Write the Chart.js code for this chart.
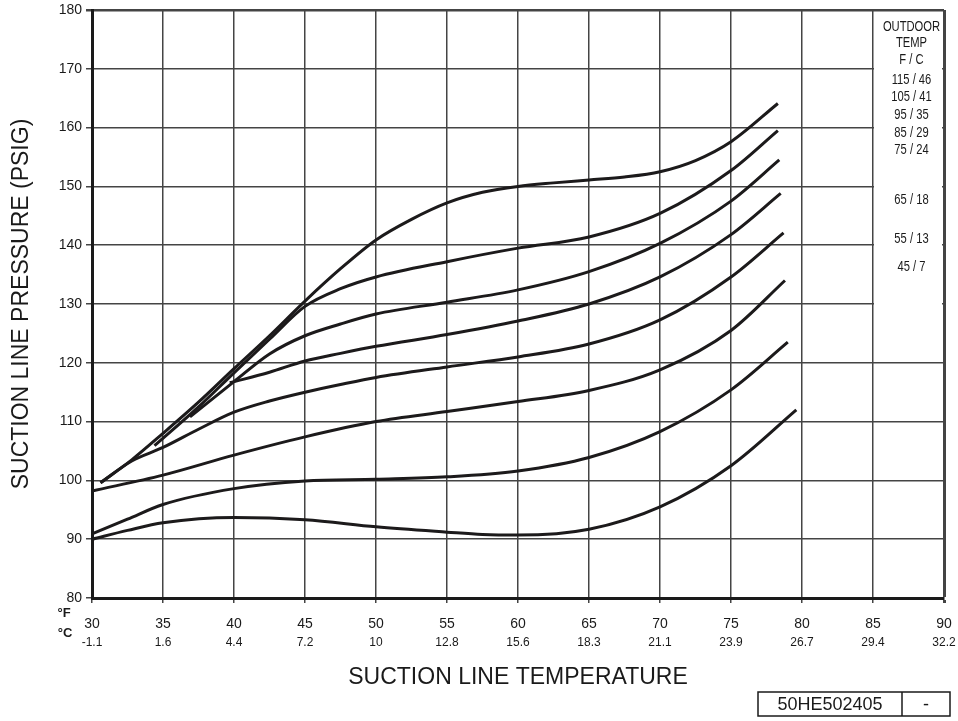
<!DOCTYPE html>
<html lang="en">
<head>
    <meta charset="UTF-8">
    <title>Suction Line Charging Chart</title>
    <script src="https://cdn.jsdelivr.net/npm/chart.js"></script>
    <style>
        html, body { margin: 0; padding: 0; background: #fff; overflow: hidden; }
        canvas { display: block; }
    </style>
</head>
<body>
    <canvas id="chargeChart" width="958" height="721"></canvas>
    <script>
        // outdoor temp labels (F / C), top curve first
        const curveLabels = ['115 / 46', '105 / 41', '95 / 35', '85 / 29', '75 / 24', '65 / 18', '55 / 13', '45 / 7'];

        // suction line temp (F) and pressure (psig)
        const temp115 = [30.6, 32.8, 35, 37.5, 40, 42.5, 45, 47.5, 50, 52.5, 55, 57.5, 60, 62.5, 65, 67.5, 70, 72.5, 75, 78.3];
        const psig115 = [99.6, 103.5, 108.0, 113.3, 119.0, 124.6, 130.5, 136.0, 140.9, 144.4, 147.2, 149.0, 150.0, 150.6, 151.1, 151.6, 152.5, 154.4, 157.6, 164.1];

        const temp105 = [34.4, 37.5, 40, 42.5, 45, 47.5, 50, 55, 60, 65, 70, 75, 78.3];
        const psig105 = [105.9, 112.5, 118.3, 124.0, 129.6, 132.6, 134.6, 137.2, 139.5, 141.4, 145.4, 152.7, 159.5];

        const temp95 = [36.9, 40, 42.5, 45, 47.5, 50, 55, 60, 65, 70, 75, 78.4];
        const psig95 = [110.8, 116.8, 121.5, 124.6, 126.6, 128.3, 130.3, 132.4, 135.5, 140.3, 147.5, 154.5];

        const temp85 = [39.7, 42.5, 45, 47.5, 50, 55, 60, 65, 70, 75, 78.5];
        const psig85 = [116.6, 118.4, 120.3, 121.6, 122.8, 124.8, 127.1, 130.0, 134.6, 141.8, 148.8];

        const temp75 = [30.6, 32.8, 35, 37.5, 40, 42.5, 45, 47.5, 50, 55, 60, 65, 70, 75, 78.7];
        const psig75 = [99.6, 103.3, 105.6, 108.7, 111.6, 113.5, 115.0, 116.3, 117.5, 119.3, 121.0, 123.2, 127.3, 134.6, 142.1];

        const temp65 = [30, 35, 40, 45, 50, 55, 60, 65, 70, 75, 78.8];
        const psig65 = [98.2, 100.9, 104.3, 107.4, 110.0, 111.7, 113.4, 115.3, 118.8, 125.5, 134.0];

        const temp55 = [30, 32.5, 35, 40, 45, 50, 55, 60, 65, 70, 75, 79.0];
        const psig55 = [90.9, 93.4, 95.9, 98.6, 99.9, 100.2, 100.6, 101.6, 103.9, 108.3, 115.4, 123.5];

        const temp45 = [30, 32.5, 35, 40, 45, 50, 55, 57.5, 60, 65, 70, 75, 79.6];
        const psig45 = [90.0, 91.5, 92.8, 93.7, 93.3, 92.1, 91.2, 90.8, 90.7, 91.7, 95.5, 102.5, 112.0];

        // second row of x tick labels (deg C)
        const celsiusTicks = ['-1.1', '1.6', '4.4', '7.2', '10', '12.8', '15.6', '18.3', '21.1', '23.9', '26.7', '29.4', '32.2'];

        const legendHead = ['OUTDOOR', 'TEMP', 'F / C'];
        const drawingNo = '50HE502405';
        const revision = '-';

        const allTemps = [temp115, temp105, temp95, temp85, temp75, temp65, temp55, temp45];
        const allPsig = [psig115, psig105, psig95, psig85, psig75, psig65, psig55, psig45];

        const datasets = curveLabels.map((label, i) => ({
            label: label,
            data: allTemps[i].map((t, j) => ({ x: t, y: allPsig[i][j] })),
            showLine: true,
            borderColor: '#1c1a1b',
            borderWidth: 3,
            pointRadius: 0,
            cubicInterpolationMode: 'monotone',
            fill: false
        }));

        const sans = '"Liberation Sans", Arial, sans-serif';
        const axisFont = { family: sans, size: 14 };
        const titleFont = { family: sans, size: 23 };

        // condensed text, the drawing uses a narrow face
        function narrowText(ctx, txt, x, y, squeeze) {
            ctx.save();
            ctx.translate(x, y);
            ctx.scale(squeeze, 1);
            ctx.fillText(txt, 0, 0);
            ctx.restore();
        }

        // keep label overhang from shrinking the plot area
        function noOverhang(s) {
            s.paddingLeft = 0;
            s.paddingRight = 0;
            s.paddingTop = 0;
            s.paddingBottom = 0;
        }

        const chartDecor = {
            id: 'chartDecor',
            beforeDatasetsDraw(chart) {
                // legend column: no horizontal grid from 130 up
                const { ctx, scales: { x, y } } = chart;
                const left = x.getPixelForValue(85) + 1;
                const right = x.getPixelForValue(90) - 2;
                const top = y.getPixelForValue(180) + 2;
                const bottom = y.getPixelForValue(125);
                ctx.save();
                ctx.fillStyle = '#fff';
                ctx.fillRect(left, top, right - left, bottom - top);
                ctx.restore();
            },
            afterDraw(chart) {
                const { ctx, scales: { x } } = chart;
                ctx.save();
                ctx.fillStyle = '#1a1a1a';
                ctx.textAlign = 'center';
                ctx.textBaseline = 'middle';

                // legend text
                const cx = (x.getPixelForValue(85) + x.getPixelForValue(90)) / 2 + 3;
                const rowsY = [27, 43, 60, 80, 97, 115, 133, 150, 200, 239, 267];
                const rows = legendHead.concat(curveLabels);
                ctx.font = '14px ' + sans;
                rows.forEach((txt, i) => narrowText(ctx, txt, cx, rowsY[i], 0.8));

                // unit markers
                ctx.font = 'bold 13px ' + sans;
                ctx.fillText('\u00B0F', 64, 613);
                ctx.fillText('\u00B0C', 65, 633);

                // drawing number box
                ctx.strokeStyle = '#1a1a1a';
                ctx.lineWidth = 1.5;
                ctx.strokeRect(758, 692, 192, 24);
                ctx.beginPath();
                ctx.moveTo(902, 692);
                ctx.lineTo(902, 716);
                ctx.stroke();
                ctx.font = '18px ' + sans;
                ctx.fillText(drawingNo, 830, 705);
                ctx.fillText(revision, 926, 705);
                ctx.restore();
            }
        };

        new Chart(document.getElementById('chargeChart'), {
            type: 'scatter',
            data: { datasets: datasets },
            plugins: [chartDecor],
            options: {
                responsive: false,
                animation: false,
                devicePixelRatio: 1,
                layout: { padding: { left: 0, top: 10, right: 14, bottom: 0 } },
                plugins: { legend: { display: false }, tooltip: { enabled: false } },
                scales: {
                    x: {
                        type: 'linear',
                        position: 'bottom',
                        weight: 0,
                        min: 30,
                        max: 90,
                        afterFit: s => { s.height = 34; noOverhang(s); },
                        ticks: { stepSize: 5, maxRotation: 0, autoSkip: false, padding: 13, color: '#1a1a1a', font: axisFont },
                        grid: {
                            color: '#444',
                            lineWidth: c => (c.tick && c.tick.value === 90 ? 3 : 1.5),
                            tickLength: 5
                        },
                        border: { color: '#1a1a1a', width: 3 }
                    },
                    xC: {
                        type: 'linear',
                        position: 'bottom',
                        weight: 1,
                        min: 30,
                        max: 90,
                        afterFit: s => { s.height = 89; noOverhang(s); },
                        ticks: {
                            stepSize: 5,
                            maxRotation: 0,
                            autoSkip: false,
                            padding: 3,
                            color: '#1a1a1a',
                            font: { family: sans, size: 12 },
                            callback: (v, i) => celsiusTicks[i]
                        },
                        grid: { display: false, drawTicks: false },
                        border: { display: false },
                        title: {
                            display: true,
                            text: 'SUCTION LINE TEMPERATURE',
                            color: '#1a1a1a',
                            font: titleFont,
                            padding: { top: 0, bottom: 30 }
                        }
                    },
                    y: {
                        type: 'linear',
                        min: 80,
                        max: 180,
                        afterFit: s => { s.width = 92; noOverhang(s); },
                        ticks: { stepSize: 10, padding: 4, color: '#1a1a1a', font: axisFont },
                        grid: {
                            color: '#444',
                            lineWidth: c => (c.tick && c.tick.value === 180 ? 2.5 : 1.5),
                            tickLength: 6
                        },
                        border: { color: '#1a1a1a', width: 3 },
                        title: {
                            display: true,
                            text: 'SUCTION LINE PRESSURE (PSIG)',
                            color: '#1a1a1a',
                            font: titleFont,
                            padding: { top: 8, bottom: 0 }
                        }
                    }
                }
            }
        });
    </script>
</body>
</html>
